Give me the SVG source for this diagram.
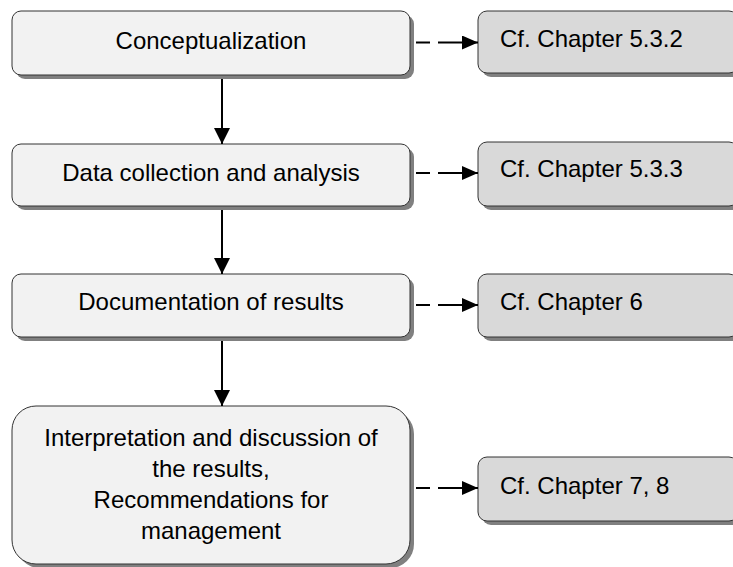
<svg xmlns="http://www.w3.org/2000/svg" width="733" height="567" viewBox="0 0 733 567">
<style>
.sh{fill:#808080}
.bx{fill:#f2f2f2;stroke:#333;stroke-width:1}
.rb{fill:#d9d9d9;stroke:#333;stroke-width:1}
text{font-family:"Liberation Sans",Arial,sans-serif;font-size:24px;fill:#000}
.c{text-anchor:middle}
.ln{stroke:#000;stroke-width:2;fill:none}
</style>
<defs>
<marker id="ah" markerWidth="16" markerHeight="16" refX="16" refY="8" orient="auto" markerUnits="userSpaceOnUse"><path d="M0,0 L16,8 L0,16 Z" fill="#000"/></marker>
<marker id="ah2" markerWidth="16" markerHeight="14" refX="16" refY="7" orient="auto" markerUnits="userSpaceOnUse"><path d="M0,0 L16,7 L0,14 Z" fill="#000"/></marker>
</defs>
<rect width="733" height="567" fill="#fff"/>
<g id="n1"><rect class="sh" x="16" y="15" width="398" height="64" rx="9"/><rect class="bx" x="12" y="11" width="398" height="64" rx="9"/><text class="c" x="211" y="49">Conceptualization</text></g>
<g id="n2"><rect class="sh" x="16" y="148" width="398" height="62" rx="9"/><rect class="bx" x="12" y="144" width="398" height="62" rx="9"/><text class="c" x="211" y="181">Data collection and analysis</text></g>
<g id="n3"><rect class="sh" x="16" y="278" width="398" height="63" rx="9"/><rect class="bx" x="12" y="274" width="398" height="63" rx="9"/><text class="c" x="211" y="310">Documentation of results</text></g>
<g id="n4"><rect class="sh" x="16" y="410" width="398" height="158" rx="24"/><rect class="bx" x="12" y="406" width="398" height="158" rx="24"/>
<text class="c" x="211" y="446">Interpretation and discussion of</text>
<text class="c" x="211" y="477">the results,</text>
<text class="c" x="211" y="508">Recommendations for</text>
<text class="c" x="211" y="539">management</text></g>
<g id="r1"><rect class="sh" x="482" y="15" width="260" height="62" rx="9"/><rect class="rb" x="478" y="11" width="260" height="62" rx="9"/><text x="500" y="47">Cf. Chapter 5.3.2</text></g>
<g id="r2"><rect class="sh" x="482" y="146" width="260" height="64" rx="9"/><rect class="rb" x="478" y="142" width="260" height="64" rx="9"/><text x="500" y="177">Cf. Chapter 5.3.3</text></g>
<g id="r3"><rect class="sh" x="482" y="278" width="260" height="63" rx="9"/><rect class="rb" x="478" y="274" width="260" height="63" rx="9"/><text x="500" y="310">Cf. Chapter 6</text></g>
<g id="r4"><rect class="sh" x="482" y="461" width="260" height="64" rx="9"/><rect class="rb" x="478" y="457" width="260" height="64" rx="9"/><text x="500" y="494">Cf. Chapter 7, 8</text></g>
<g id="connectors">
<line class="ln" x1="222" y1="79" x2="222" y2="144" marker-end="url(#ah)"/>
<line class="ln" x1="222" y1="210" x2="222" y2="274" marker-end="url(#ah)"/>
<line class="ln" x1="222" y1="341" x2="222" y2="406" marker-end="url(#ah)"/>
<line class="ln" x1="416" y1="42.5" x2="478" y2="42.5" stroke-dasharray="14 8 40" marker-end="url(#ah2)"/>
<line class="ln" x1="416" y1="173" x2="478" y2="173" stroke-dasharray="14 8 40" marker-end="url(#ah2)"/>
<line class="ln" x1="416" y1="305" x2="478" y2="305" stroke-dasharray="14 8 40" marker-end="url(#ah2)"/>
<line class="ln" x1="416" y1="488" x2="478" y2="488" stroke-dasharray="14 8 40" marker-end="url(#ah2)"/>
</g>
</svg>
